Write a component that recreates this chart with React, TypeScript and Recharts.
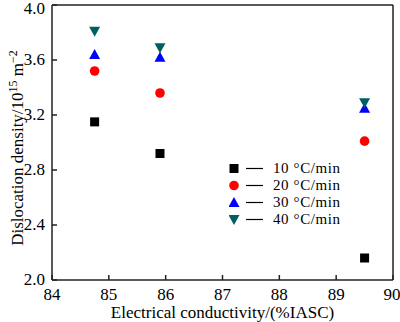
import { ScatterChart, Scatter, XAxis, YAxis, ReferenceLine } from 'recharts';

const conductivity = [84.75, 85.9, 89.5];
const rate10 = [3.15, 2.92, 2.16];
const rate20 = [3.52, 3.36, 3.01];
const rate30 = [3.64, 3.62, 3.25];
const rate40 = [3.81, 3.69, 3.29];
const xTicks = [84, 85, 86, 87, 88, 89, 90];
const yTicks = [2.0, 2.4, 2.8, 3.2, 3.6, 4.0];

const FONT = '"Liberation Serif", "Times New Roman", serif';

const toPoints = (ys: number[]) => conductivity.map((x, i) => ({ x, y: ys[i] }));

/* ── marker shapes ───────────────────────────── */
function Square({ cx, cy, fill }: any) {
  return <rect x={cx - 4.5} y={cy - 4.5} width={9} height={9} fill={fill} />;
}
function Dot({ cx, cy, fill }: any) {
  return <circle cx={cx} cy={cy} r={4.8} fill={fill} />;
}
function TriUp({ cx, cy, fill }: any) {
  return <path d={`M${cx - 5.5},${cy + 4.5} L${cx + 5.5},${cy + 4.5} L${cx},${cy - 5.5} Z`} fill={fill} />;
}
function TriDown({ cx, cy, fill }: any) {
  return <path d={`M${cx - 5.5},${cy - 4.5} L${cx + 5.5},${cy - 4.5} L${cx},${cy + 5.5} Z`} fill={fill} />;
}

const series = [
  { name: '10 °C/min', data: rate10, color: '#000000', Shape: Square },
  { name: '20 °C/min', data: rate20, color: '#ff0000', Shape: Dot },
  { name: '30 °C/min', data: rate30, color: '#0000ff', Shape: TriUp },
  { name: '40 °C/min', data: rate40, color: '#006060', Shape: TriDown },
];

/* ── tick labels (explicit serif) ────────────── */
function XTick({ x, y, payload }: any) {
  return (
    <text x={x} y={y + 14} textAnchor="middle" fontFamily={FONT} fontSize={17} fill="#000">
      {payload.value}
    </text>
  );
}
function YTick({ x, y, payload }: any) {
  return (
    <text x={x} y={y + 5} textAnchor="end" fontFamily={FONT} fontSize={17} fill="#000">
      {Number(payload.value).toFixed(1)}
    </text>
  );
}

function LegendBox() {
  return (
    <div
      style={{
        position: 'absolute',
        left: 229,
        top: 160,
        fontFamily: FONT,
        fontSize: 15,
        letterSpacing: 0.6,
        color: '#000',
        lineHeight: '17px',
      }}
    >
      {series.map((s) => (
        <div key={s.name} style={{ display: 'flex', alignItems: 'center', height: 17 }}>
          <svg width={44} height={17} style={{ display: 'block' }}>
            <s.Shape cx={5} cy={8.5} fill={s.color} />
            <line x1={17} x2={34} y1={8.5} y2={8.5} stroke="#000" strokeWidth={1.2} />
          </svg>
          <span style={{ whiteSpace: 'nowrap' }}>{s.name}</span>
        </div>
      ))}
    </div>
  );
}

function YLabel() {
  return (
    <text
      x={0}
      y={0}
      transform="translate(23, 148) rotate(-90)"
      textAnchor="middle"
      fontFamily={FONT}
      fontSize={17}
      fill="#000"
    >
      Dislocation density/10<tspan dy={-6} fontSize={12}>15</tspan>
      <tspan dy={6}> m</tspan>
      <tspan dy={-6} fontSize={12}>−2</tspan>
    </text>
  );
}

export default function App() {
  return (
    <div style={{ position: 'absolute', left: 0, top: 0, width: 400, height: 322, background: '#fff' }}>
      <ScatterChart
        width={400}
        height={322}
        margin={{ top: 5, right: 7, left: 0, bottom: 0 }}
        style={{ fontFamily: FONT }}
      >
        <XAxis
          type="number"
          dataKey="x"
          domain={[84, 90]}
          ticks={xTicks}
          height={42}
          stroke="#222"
          strokeWidth={1.5}
          tickSize={-5}
          tickMargin={11}
          tick={<XTick />}
          label={{ value: 'Electrical conductivity/(%IASC)', position: 'insideBottom', offset: 4, fill: '#000', fontFamily: FONT, fontSize: 17 }}
        />
        <YAxis
          type="number"
          dataKey="y"
          domain={[2, 4]}
          ticks={yTicks}
          width={52}
          stroke="#222"
          strokeWidth={1.5}
          tickSize={-5}
          tickMargin={12}
          tick={<YTick />}
          label={<YLabel />}
        />
        <ReferenceLine y={4} stroke="#222" strokeWidth={1.5} />
        <ReferenceLine x={90} stroke="#222" strokeWidth={1.5} />
        {series.map((s) => (
          <Scatter
            key={s.name}
            name={s.name}
            data={toPoints(s.data)}
            fill={s.color}
            shape={(p: any) => <s.Shape cx={p.cx} cy={p.cy} fill={s.color} />}
            isAnimationActive={false}
          />
        ))}
      </ScatterChart>
      <LegendBox />
    </div>
  );
}
